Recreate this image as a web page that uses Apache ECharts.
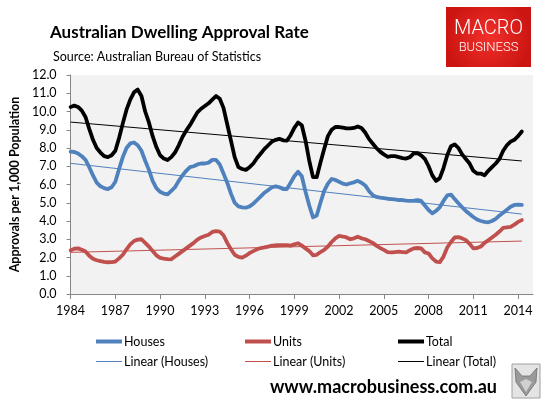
<!DOCTYPE html>
<html>
<head>
<meta charset="utf-8">
<script src="https://cdn.jsdelivr.net/npm/echarts@6/dist/echarts.min.js"></script>
<style>
  html, body { margin: 0; padding: 0; background: #fff; }
  #chart { width: 560px; height: 399px; }
</style>
</head>
<body>
<div id="chart"></div>
<script>
// quarterly categories, 1984 Q1 .. 2015 Q1 (axis runs a bit past the data)
let quarters = [];
for (let y = 1984; y <= 2015; y++) {
  for (let q = 1; q <= 4; q++) {
    if (y === 2015 && q > 1) break;
    quarters.push(y + ' Q' + q);
  }
}

// approvals per 1,000 population, 1984 Q1 .. 2014 Q2
let houses = [
  7.8, 7.78, 7.7, 7.55,   7.35, 6.95, 6.5, 6.1,   5.9, 5.8, 5.75, 5.85,   6.15, 6.85, 7.5, 8.0,
  8.25, 8.3, 8.15, 7.85,  7.3, 6.8, 6.2, 5.8,     5.6, 5.5, 5.46, 5.65,   5.85, 6.2, 6.5, 6.75,
  6.95, 7.0, 7.1, 7.15,   7.15, 7.2, 7.35, 7.35,  7.1, 6.6, 6.1, 5.5,     5.0, 4.8, 4.75, 4.73,
  4.8, 4.95, 5.15, 5.35,  5.55, 5.7, 5.85, 5.9,   5.85, 5.75, 5.75, 6.1,  6.45, 6.7, 6.45, 5.6,
  4.85, 4.2, 4.3, 5.0,    5.65, 6.05, 6.3, 6.25,  6.15, 6.05, 6.0, 6.07,  6.12, 6.2, 6.1, 5.95,
  5.65, 5.42, 5.32, 5.28, 5.25, 5.22, 5.2, 5.18,  5.15, 5.15, 5.12, 5.1,  5.12, 5.15, 5.1, 4.85,
  4.6, 4.42, 4.55, 4.75,  5.1, 5.4, 5.45, 5.2,    4.97, 4.75, 4.55, 4.38, 4.22, 4.08, 4.0, 3.95,
  3.93, 4.0, 4.12, 4.3,   4.45, 4.62, 4.78, 4.88, 4.9, 4.88
];
let units = [
  2.4, 2.48, 2.5, 2.42,   2.33, 2.1, 1.93, 1.85,  1.8, 1.76, 1.74, 1.75,  1.78, 1.95, 2.15, 2.45,
  2.72, 2.9, 2.98, 3.0,   2.8, 2.6, 2.35, 2.12,   1.98, 1.94, 1.91, 1.9,  2.05, 2.2, 2.35, 2.5,
  2.65, 2.8, 2.98, 3.1,   3.18, 3.25, 3.4, 3.45,  3.42, 3.22, 2.8, 2.45,  2.15, 2.03, 1.99, 2.1,
  2.25, 2.35, 2.45, 2.52, 2.55, 2.6, 2.65, 2.67,  2.68, 2.68, 2.68, 2.65, 2.72, 2.78, 2.65, 2.5,
  2.35, 2.12, 2.15, 2.3,  2.42, 2.6, 2.85, 3.05,  3.18, 3.15, 3.1, 3.0,   3.05, 3.14, 3.05, 3.0,
  2.9, 2.8, 2.65, 2.52,   2.42, 2.3, 2.28, 2.3,   2.32, 2.3, 2.28, 2.4,   2.5, 2.52, 2.5, 2.28,
  2.22, 1.95, 1.78, 1.74, 2.05, 2.55, 2.85, 3.1,  3.12, 3.05, 2.95, 2.75, 2.5, 2.52, 2.6, 2.8,
  2.95, 3.1, 3.25, 3.42,  3.62, 3.65, 3.68, 3.8,  3.95, 4.05
];
let total = [
  10.25, 10.32, 10.25, 10.05, 9.7, 9.05, 8.45, 8.0,   7.75, 7.55, 7.5, 7.6,     7.85, 8.55, 9.35, 10.1,
  10.65, 11.05, 11.2, 10.85,  10.0, 9.4, 8.65, 8.05,  7.6, 7.42, 7.34, 7.5,     7.75, 8.15, 8.6, 8.95,
  9.25, 9.6, 9.95, 10.15,     10.3, 10.45, 10.65, 10.85, 10.7, 10.2, 9.3, 8.4, 7.5, 6.95, 6.85, 6.8,
  6.95, 7.15, 7.45, 7.7,      7.95, 8.15, 8.35, 8.45, 8.5, 8.42, 8.4, 8.7,     9.1, 9.4, 9.25, 8.4,
  7.3, 6.4, 6.4, 7.2,         7.95, 8.65, 9.0, 9.15,  9.15, 9.12, 9.08, 9.08,   9.1, 9.18, 9.1, 8.85,
  8.5, 8.25, 8.0, 7.8,        7.65, 7.52, 7.55, 7.55, 7.5, 7.45, 7.42, 7.5,     7.7, 7.72, 7.6, 7.4,
  7.0, 6.5, 6.2, 6.35,        6.9, 7.6, 8.1, 8.2,     8.0, 7.65, 7.4, 7.15,     6.75, 6.6, 6.6, 6.5,
  6.75, 6.95, 7.15, 7.4,      7.85, 8.15, 8.35, 8.45, 8.65, 8.9
];

// linear trend lines, start and end values
let trendHouses = [7.16, 4.38];
let trendUnits = [2.28, 2.9];
let trendTotal = [9.42, 7.29];

let yTicks = [0, 12, 1];

let firstQ = quarters[0];
let lastQ = quarters[total.length - 1];

const blue = '#4f81bd';
const red = '#c0504d';
const black = '#000000';
const font = 'Lato, "Open Sans", sans-serif';

function line(name, data, color){
  return {
    name: name, type: 'line', data: data, symbol: 'none',
    lineStyle: { color: color, width: 3.8, join: 'round', cap: 'round' },
    itemStyle: { color: color }, animation: false, silent: true
  };
}
function trend(name, ends, color){
  return {
    name: name, type: 'line', symbol: 'none',
    data: [[firstQ, ends[0]], [lastQ, ends[1]]],
    lineStyle: { color: color, width: 1 }, itemStyle: { color: color },
    animation: false, silent: true, z: 5
  };
}
function leg(name, left, top, h){
  return {
    data: [{ name: name, icon: 'rect' }], left: left, top: top,
    itemWidth: 26, itemHeight: h, itemGap: 0, selectedMode: false,
    textStyle: { fontFamily: font, fontSize: 12.5, color: '#000', padding: [0, 0, 0, -3] }
  };
}

let chart = echarts.init(document.getElementById('chart'), null, { renderer: 'canvas' });

chart.setOption({
  backgroundColor: '#fff',
  animation: false,
  grid: {
    left: 59, right: 27, top: 75, bottom: 105,
    show: true, backgroundColor: '#f2f2f2', borderWidth: 0
  },
  xAxis: {
    type: 'category', data: quarters, boundaryGap: false,
    axisLine: { lineStyle: { color: '#868686', width: 1 } },
    axisTick: { interval: 11, length: 5, lineStyle: { color: '#868686' } },
    axisLabel: {
      interval: 11, margin: 10, color: '#000', fontFamily: font, fontSize: 12.5,
      formatter: v => v.slice(0, 4)
    },
    splitLine: { show: false }
  },
  yAxis: {
    type: 'value', min: yTicks[0], max: yTicks[1], interval: yTicks[2],
    name: 'Approvals per 1,000 Population', nameLocation: 'middle', nameGap: 42,
    nameTextStyle: { fontFamily: font, fontWeight: 'bold', fontSize: 12.5, color: '#000' },
    axisLine: { show: true, lineStyle: { color: '#868686' } },
    axisTick: { show: true, length: 4, lineStyle: { color: '#868686' } },
    axisLabel: { margin: 14, color: '#000', fontFamily: font, fontSize: 12.5, formatter: v => v.toFixed(1) },
    splitLine: { show: false }
  },
  legend: [
    leg('Houses', 91, 330, 4),
    leg('Units', 240, 330, 4),
    leg('Total', 393, 330, 4),
    leg('Linear (Houses)', 91, 350, 1),
    leg('Linear (Units)', 240, 350, 1),
    leg('Linear (Total)', 393, 350, 1)
  ],
  series: [
    line('Houses', houses, blue),
    line('Units', units, red),
    line('Total', total, black),
    trend('Linear (Houses)', trendHouses, blue),
    trend('Linear (Units)', trendUnits, red),
    trend('Linear (Total)', trendTotal, black)
  ],
  graphic: [
    { type: 'text', left: 50, top: 24, style: { text: 'Australian Dwelling Approval Rate', fill: '#000',
      font: 'bold 17px ' + font } },
    { type: 'text', left: 53, top: 50, style: { text: 'Source: Australian Bureau of Statistics', fill: '#000',
      font: '12.5px ' + font } },
    { type: 'rect', shape: { x: 446, y: 7, width: 85, height: 60 },
      style: { fill: { type: 'radial', x: 0.5, y: 0.5, r: 0.7,
        colorStops: [{ offset: 0, color: '#f2302b' }, { offset: 1, color: '#cc1512' }] } } },
    { type: 'text', x: 488.5, y: 29, style: { text: 'MACRO', fill: '#fff', align: 'center', verticalAlign: 'middle',
      font: '300 20px Roboto, sans-serif' } },
    { type: 'text', x: 488.5, y: 48, style: { text: 'BUSINESS', fill: '#fff', align: 'center', verticalAlign: 'middle',
      font: '300 13px Roboto, sans-serif' } },
    { type: 'text', x: 497, y: 387, style: { text: 'www.macrobusiness.com.au', fill: '#000', align: 'right',
      verticalAlign: 'middle', font: 'bold 18px ' + font } },
    { type: 'rect', shape: { x: 512, y: 364, width: 28, height: 34 },
      style: { fill: '#e4e4e4', stroke: '#a0a0a0', lineWidth: 1 } },
    { type: 'polygon', shape: { points: [[515, 368], [522, 376], [530, 376], [537, 368], [536, 382], [526, 396], [516, 382]] },
      style: { fill: '#9a9a9a', stroke: '#6e6e6e', lineWidth: 0.8 } },
    { type: 'polygon', shape: { points: [[520, 382], [526, 379], [532, 382], [526, 392]] },
      style: { fill: '#d0d0d0' } }
  ]
});
</script>
</body>
</html>
